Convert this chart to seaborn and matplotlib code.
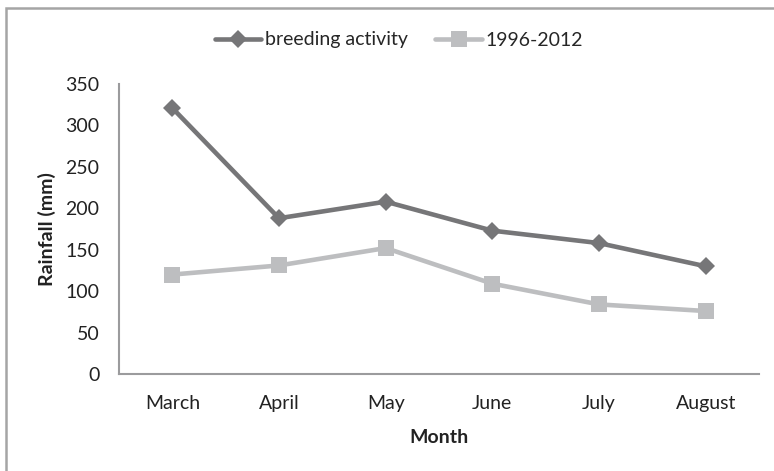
import matplotlib
matplotlib.use("Agg")
import matplotlib.pyplot as plt
import matplotlib.patches as patches
import seaborn as sns
import pandas as pd

months = ["March", "April", "May", "June", "July", "August"]
breeding = [321, 188, 208, 173, 158, 130]
baseline = [120, 131, 152, 109, 84, 76]
series_names = ["breeding activity", "1996-2012"]
yticks = [0, 50, 100, 150, 200, 250, 300, 350]

sns.set_theme(style="white")
plt.rcParams["font.family"] = ["Lato", "DejaVu Sans"]

df = pd.DataFrame({
    "Month": months * 2,
    "Rainfall": breeding + baseline,
    "Series": [series_names[0]] * len(months) + [series_names[1]] * len(months),
})
df["x"] = df["Month"].map({m: i for i, m in enumerate(months)})

fig = plt.figure(figsize=(7.74, 4.71), dpi=100)
ax = fig.add_axes([119 / 774, 1 - 374 / 471, (759 - 119) / 774, (374 - 84) / 471])

palette = {series_names[0]: "#767678", series_names[1]: "#BDBEC0"}
sns.lineplot(data=df, x="x", y="Rainfall", hue="Series", style="Series",
             markers={series_names[0]: "D", series_names[1]: "s"},
             dashes=False, palette=palette, linewidth=3.3,
             markeredgewidth=0, ax=ax, legend=False)
for line, ms in zip(ax.lines, [9.5, 11.5]):
    line.set_markersize(ms)

fs = 14
ax.set_xlim(-0.5, len(months) - 0.5)
ax.set_ylim(0, 350)
ax.set_xticks(range(len(months)))
ax.set_xticklabels(months)
ax.set_yticks(yticks)
ax.tick_params(axis="both", length=0, labelsize=fs, colors="#222222")
ax.tick_params(axis="x", pad=15)
ax.tick_params(axis="y", pad=14)
ax.set_xlabel("Month", fontsize=fs, fontweight="bold", color="#222222", labelpad=12)
ax.set_ylabel("Rainfall (mm)", fontsize=fs, fontweight="bold", color="#222222", labelpad=7)
for s in ["top", "right"]:
    ax.spines[s].set_visible(False)
for s in ["left", "bottom"]:
    ax.spines[s].set_color("#9B9B9D")
    ax.spines[s].set_linewidth(1.5)

handles = [
    plt.Line2D([], [], color=palette[series_names[0]], lw=3.3, marker="D", ms=9.5, mew=0),
    plt.Line2D([], [], color=palette[series_names[1]], lw=3.3, marker="s", ms=11.5, mew=0),
]
fig.legend(handles, series_names, loc="center", bbox_to_anchor=(399 / 774, 1 - 40 / 471),
           ncol=2, frameon=False, fontsize=fs, handlelength=2.4, columnspacing=1.4,
           handletextpad=0.2)

fig.add_artist(patches.Rectangle((5.5 / 774, -0.1), 2, 1.1 - 7.5 / 471,
                                 transform=fig.transFigure, fill=False,
                                 edgecolor="#A5A5A5", linewidth=1.8))

fig.savefig("out.png", dpi=100)
